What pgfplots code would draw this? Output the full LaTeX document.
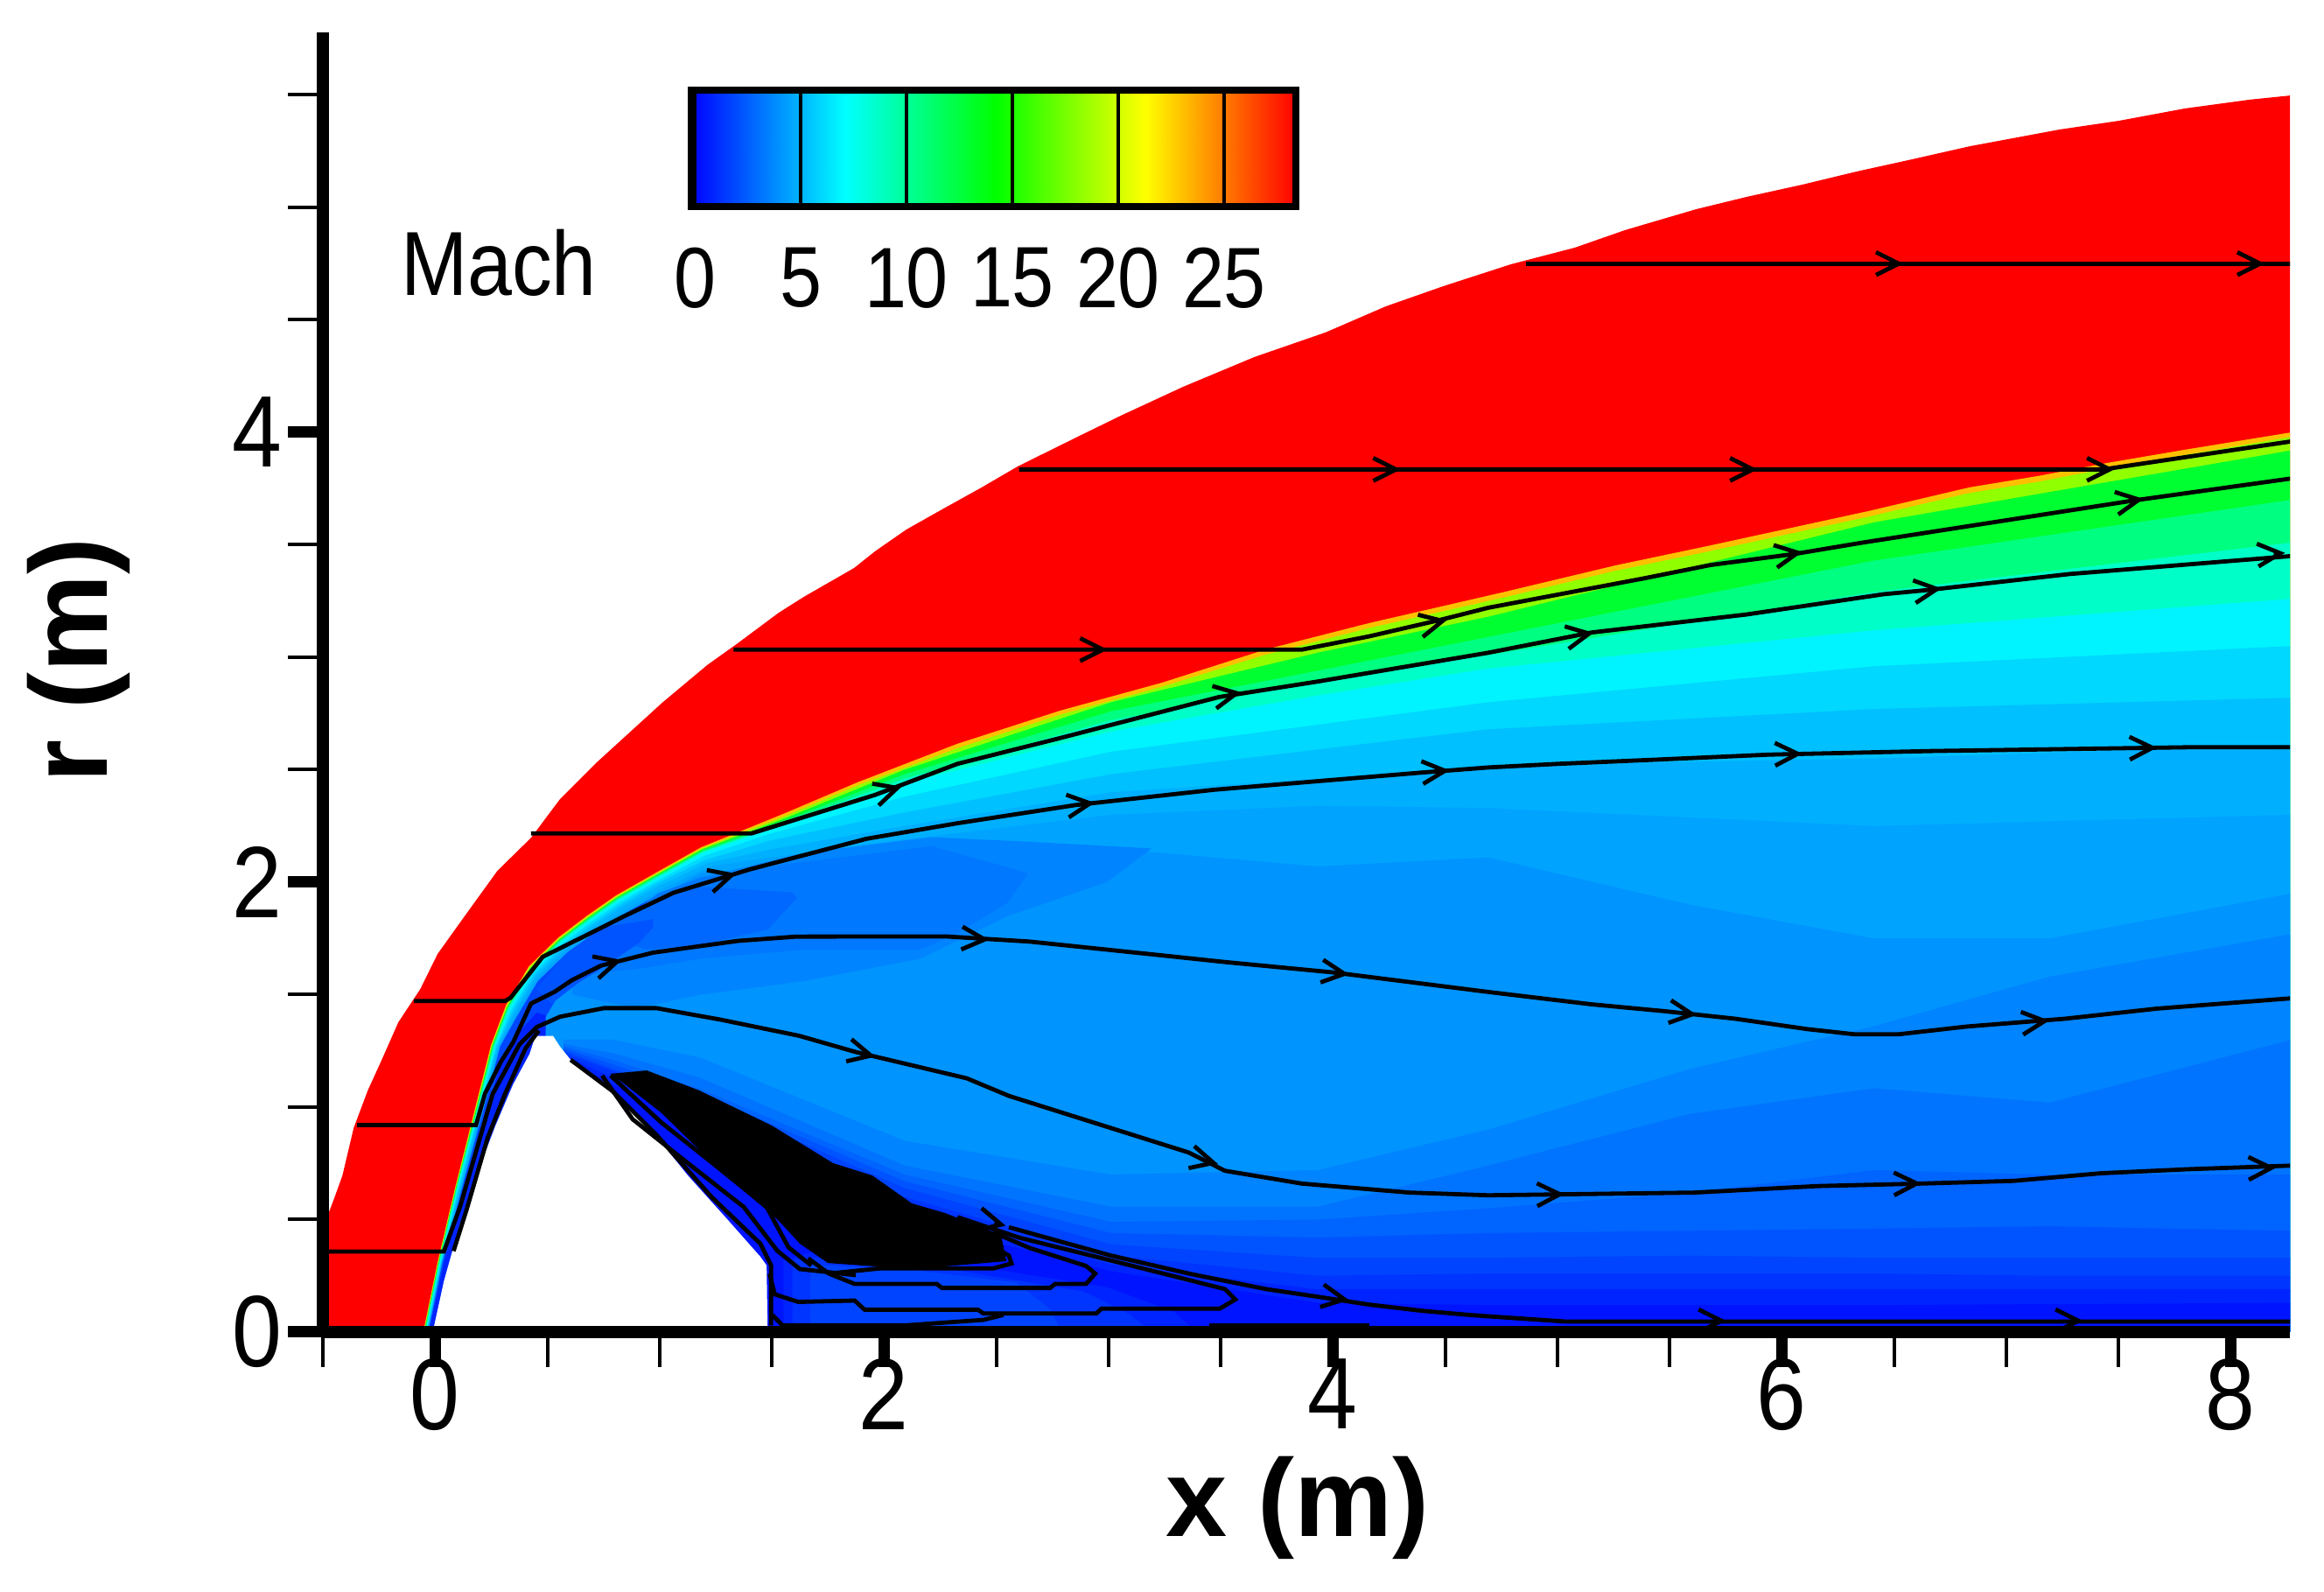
\documentclass[border=0pt]{standalone}
\usepackage{fontspec}
\setmainfont[FakeStretch=0.88]{Liberation Sans}
\newfontfamily\labfont{Liberation Sans}
\usepackage{pgfplots}
\pgfplotsset{compat=1.18}
\usetikzlibrary{arrows.meta}
\definecolor{cA}{HTML}{FF0000}
\definecolor{cB}{HTML}{FFC000}
\definecolor{cC}{HTML}{90FF00}
\definecolor{cD}{HTML}{00FF30}
\definecolor{cE}{HTML}{00FF80}
\definecolor{cF}{HTML}{00FFC8}
\definecolor{cG}{HTML}{00F4FF}
\definecolor{cH}{HTML}{00D8FF}
\definecolor{cI}{HTML}{00C0FF}
\definecolor{cJ}{HTML}{00B0FF}
\definecolor{cK}{HTML}{00A4FF}
\definecolor{cN0}{HTML}{0048FF}
\definecolor{cL}{HTML}{0094FF}
\definecolor{cM}{HTML}{0084FF}
\definecolor{cM2}{HTML}{0078FF}
\definecolor{cM3}{HTML}{0068FF}
\definecolor{cM4}{HTML}{0054FF}
\definecolor{cN}{HTML}{0074FF}
\definecolor{cO}{HTML}{0064FF}
\definecolor{cP}{HTML}{0054FF}
\definecolor{cQ}{HTML}{0044FF}
\definecolor{cR}{HTML}{0034FF}
\definecolor{cS}{HTML}{0024FF}
\definecolor{cT}{HTML}{0014FF}
\pgfplotsset{
  sl/.style={black,line width=1.2pt},
  lev/.style={draw=none,fill=#1},
}
\begin{document}
\begin{tikzpicture}
\useasboundingbox (0,0) rectangle (664pt,454.75pt);
\begin{axis}[
  at={(92.25pt,74.25pt)}, anchor=south west, scale only axis,
  width=562pt, height=371.25pt,
  xmin=-0.5, xmax=8.264, ymin=0, ymax=5.778,
  axis x line=bottom, axis y line=left,
  axis line style={-,line width=3.5pt},
  axis on top, no markers,
  every axis plot/.append style={xshift=-0.5pt},
  xtick={0,2,4,6,8}, ytick={0,2,4},
  minor xtick={-0.5,0.5,1,1.5,2.5,3,3.5,4.5,5,5.5,6.5,7,7.5},
  minor ytick={0.5,1,1.5,2.5,3,3.5,4.5,5,5.5},
  tick align=outside,
  major tick length=10pt, minor tick length=10pt,
  major tick style={black,line width=3.25pt},
  minor tick style={black,line width=1pt},
  tick label style={font=\fontsize{29}{30}\selectfont,inner sep=0pt,/pgf/number format/assume math mode=true},
  x tick label style={anchor=north,yshift=2.5pt},
  y tick label style={anchor=east,xshift=-1.5pt},
  xlabel={\labfont\bfseries\fontsize{31.5}{36}\selectfont x (m)},
  ylabel={\labfont\bfseries\fontsize{31.5}{36}\selectfont r (m)},
  every axis x label/.style={at={(axis description cs:0.4956,-0.1354)},anchor=center},
  every axis y label/.style={at={(axis description cs:-0.124,0.517)},anchor=center,rotate=90},
]
% free stream behind the bow shock
\addplot[lev=cA] coordinates {(-0.5,0.44)(-0.48,0.494)(-0.444,0.588)(-0.405,0.696)(-0.355,0.907)(-0.292,1.074)(-0.23,1.21)(-0.156,1.377)(-0.058,1.525)(0.019,1.681)(0.136,1.844)(0.285,2.05)(0.436,2.198)(0.565,2.37)(0.733,2.537)(0.81,2.607)(1.02,2.798)(1.22,2.965)(1.356,3.062)(1.539,3.198)(1.65,3.268)(1.875,3.397)(1.968,3.471)(2.108,3.568)(2.268,3.658)(2.443,3.755)(2.603,3.848)(2.864,3.977)(3.063,4.074)(3.34,4.202)(3.659,4.335)(3.975,4.444)(4.244,4.56)(4.501,4.65)(4.801,4.747)(5.086,4.821)(5.31,4.899)(5.627,4.992)(5.853,5.047)(6.099,5.101)(6.344,5.16)(6.59,5.214)(6.847,5.272)(7.245,5.346)(7.51,5.385)(7.806,5.44)(8.094,5.479)(8.28,5.498)(8.28,0)(-0.5,0)};
% Mach levels, highest first
\addplot[lev=cB] coordinates {(-0.045,0)(0.018,0.307)(0.097,0.642)(0.195,1.031)(0.257,1.276)(0.324,1.454)(0.425,1.625)(0.557,1.754)(0.685,1.851)(0.814,1.941)(0.985,2.038)(1.193,2.155)(1.57,2.308)(1.89,2.444)(2.334,2.615)(2.794,2.763)(3.25,2.888)(3.71,3.035)(4.17,3.152)(4.766,3.289)(5.27,3.409)(5.68,3.495)(6.395,3.65)(6.843,3.755)(7.151,3.806)(7.459,3.864)(7.806,3.923)(8.28,4.0)(8.28,0)};
\addplot[lev=cC] coordinates {(-0.043,0)(0.02,0.307)(0.099,0.642)(0.198,1.031)(0.26,1.276)(0.327,1.45)(0.428,1.621)(0.56,1.75)(0.687,1.846)(0.816,1.936)(0.987,2.033)(1.195,2.15)(1.57,2.295)(1.89,2.43)(2.334,2.595)(2.794,2.745)(3.25,2.87)(3.71,3.012)(4.17,3.13)(4.766,3.265)(5.27,3.385)(5.68,3.47)(6.395,3.625)(6.843,3.73)(7.151,3.78)(7.459,3.84)(7.806,3.90)(8.28,3.98)(8.28,0)};
\addplot[lev=cD] coordinates {(-0.041,0)(0.022,0.307)(0.101,0.642)(0.201,1.031)(0.263,1.275)(0.33,1.447)(0.431,1.617)(0.563,1.746)(0.69,1.842)(0.818,1.932)(0.989,2.029)(1.197,2.145)(1.57,2.285)(2.1,2.5)(3.02,2.80)(3.94,3.02)(4.7,3.18)(6.42,3.60)(8.28,3.92)(8.28,0)};
\addplot[lev=cE] coordinates {(-0.039,0)(0.024,0.307)(0.103,0.642)(0.204,1.031)(0.266,1.274)(0.332,1.443)(0.433,1.614)(0.565,1.743)(0.691,1.838)(0.82,1.928)(0.991,2.025)(1.199,2.14)(1.57,2.275)(2.1,2.48)(3.02,2.76)(3.94,2.94)(4.7,3.09)(6.42,3.43)(8.28,3.70)(8.28,0)};
\addplot[lev=cF] coordinates {(-0.037,0)(0.026,0.307)(0.105,0.642)(0.207,1.031)(0.269,1.272)(0.334,1.44)(0.435,1.611)(0.567,1.74)(0.693,1.834)(0.822,1.924)(0.993,2.021)(1.2,2.135)(1.57,2.265)(2.1,2.46)(3.02,2.72)(3.94,2.89)(4.7,3.01)(6.42,3.29)(8.28,3.51)(8.28,0)};
\addplot[lev=cG] coordinates {(-0.034,0)(0.029,0.307)(0.108,0.642)(0.211,1.031)(0.273,1.27)(0.338,1.435)(0.439,1.606)(0.571,1.735)(0.695,1.829)(0.825,1.919)(0.996,2.016)(1.2,2.13)(1.5,2.237)(2.1,2.44)(3.02,2.67)(3.94,2.83)(4.7,2.95)(6.42,3.12)(8.28,3.26)(8.28,0)};
\addplot[lev=cH] coordinates {(-0.031,0)(0.032,0.307)(0.112,0.642)(0.215,1.031)(0.278,1.27)(0.344,1.427)(0.445,1.598)(0.577,1.727)(0.70,1.82)(0.83,1.91)(1.0,2.007)(1.21,2.118)(1.5,2.215)(2.1,2.38)(3.02,2.58)(3.94,2.70)(4.7,2.80)(6.42,2.96)(8.28,3.05)(8.28,0)};
\addplot[lev=cI] coordinates {(-0.029,0)(0.034,0.307)(0.116,0.642)(0.22,1.031)(0.283,1.27)(0.35,1.42)(0.451,1.59)(0.583,1.719)(0.705,1.81)(0.835,1.90)(1.005,1.998)(1.215,2.10)(1.5,2.185)(2.1,2.31)(3.02,2.48)(3.94,2.59)(4.7,2.68)(6.42,2.77)(8.28,2.82)(8.28,0)};
\addplot[lev=cJ] coordinates {(-0.027,0)(0.036,0.307)(0.12,0.642)(0.225,1.031)(0.288,1.27)(0.355,1.41)(0.456,1.58)(0.588,1.71)(0.71,1.80)(0.84,1.89)(1.01,1.985)(1.22,2.085)(1.5,2.145)(2.1,2.25)(3.02,2.40)(3.94,2.46)(4.7,2.52)(6.42,2.55)(8.28,2.61)(8.28,0)};
\addplot[lev=cK] coordinates {(-0.025,0)(0.038,0.307)(0.124,0.642)(0.23,1.031)(0.293,1.27)(0.36,1.40)(0.461,1.57)(0.593,1.70)(0.72,1.79)(0.85,1.875)(1.02,1.97)(1.23,2.07)(1.5,2.11)(2.1,2.19)(3.02,2.30)(3.94,2.34)(4.7,2.33)(6.42,2.25)(8.28,2.30)(8.28,0)};
\addplot[lev=cN0] coordinates {(-0.023,0)(0.04,0.307)(0.128,0.642)(0.235,1.031)(0.298,1.27)(0.365,1.39)(0.466,1.56)(0.6,1.69)(0.73,1.78)(0.86,1.865)(1.03,1.96)(1.03,0)};
\addplot[lev=cS] coordinates {(-0.02,0)(0.045,0.3)(0.13,0.62)(0.24,1.0)(0.31,1.22)(0.38,1.33)(0.46,1.42)(0.53,1.40)(0.53,0)};
\addplot[lev=cL] coordinates {(0.5,0)(0.5,1.40)(0.62,1.60)(0.8,1.74)(1.03,1.95)(1.19,2.04)(1.5,2.07)(2.1,2.14)(3.02,2.15)(3.94,2.07)(4.7,2.11)(5.6,1.90)(6.42,1.75)(7.2,1.75)(8.28,1.95)(8.28,0)};
% darker pockets above the wake
\addplot[lev=cM] coordinates {(0.62,1.50)(0.62,1.62)(0.8,1.80)(1.03,1.93)(1.19,2.02)(1.65,2.13)(2.22,2.2)(2.65,2.18)(3.2,2.15)(3.0,2.0)(2.56,1.85)(2.17,1.66)(1.65,1.56)(1.19,1.50)(0.9,1.44)};
\addplot[lev=cM2] coordinates {(0.6,1.58)(0.70,1.72)(1.0,1.95)(1.19,2.02)(1.65,2.09)(2.22,2.16)(2.65,2.04)(2.56,1.91)(2.33,1.77)(2.17,1.70)(1.65,1.70)(1.19,1.66)(0.95,1.62)};
\addplot[lev=cM3] coordinates {(0.72,1.78)(1.0,1.93)(1.19,1.98)(1.6,1.955)(1.62,1.93)(1.49,1.79)(1.19,1.72)(0.95,1.70)};
\addplot[lev=cM4] coordinates {(0.46,1.525)(0.59,1.68)(0.747,1.797)(0.98,1.836)(0.98,1.80)(0.916,1.73)(0.786,1.64)(0.643,1.55)(0.526,1.46)};
% wake levels
\addplot[lev=cM] coordinates {(0.58,0)(0.58,1.30)(0.8,1.30)(1.19,1.22)(2.1,0.85)(3.02,0.70)(3.94,0.72)(4.7,0.90)(5.6,1.17)(6.42,1.36)(7.2,1.58)(8.28,1.77)(8.28,0)};
\addplot[lev=cN] coordinates {(0.58,0)(0.58,1.28)(0.8,1.24)(1.19,1.13)(2.1,0.74)(3.02,0.557)(3.94,0.557)(4.7,0.74)(5.6,0.97)(6.42,1.084)(7.2,1.02)(8.28,1.30)(8.28,0)};
\addplot[lev=cO] coordinates {(0.58,0)(0.58,1.27)(0.8,1.21)(1.19,1.08)(2.1,0.70)(3.02,0.49)(3.94,0.50)(4.7,0.55)(5.6,0.62)(6.42,0.72)(7.2,0.70)(8.28,0.70)(8.28,0)};
\addplot[lev=cP] coordinates {(0.58,0)(0.58,1.26)(0.8,1.19)(1.19,1.06)(2.1,0.67)(3.02,0.44)(3.94,0.42)(4.7,0.44)(5.6,0.45)(6.42,0.46)(7.2,0.47)(8.28,0.45)(8.28,0)};
\addplot[lev=cQ] coordinates {(0.58,0)(0.58,1.25)(0.8,1.17)(1.19,1.04)(2.1,0.64)(3.02,0.39)(3.94,0.33)(4.7,0.33)(5.6,0.34)(6.42,0.33)(7.2,0.33)(8.28,0.33)(8.28,0)};
\addplot[lev=cR] coordinates {(0.58,0)(0.58,1.24)(0.8,1.16)(1.19,1.02)(2.1,0.60)(3.02,0.34)(3.94,0.25)(4.7,0.26)(5.6,0.26)(6.42,0.26)(7.2,0.25)(8.28,0.25)(8.28,0)};
\addplot[lev=cS] coordinates {(0.58,0)(0.58,1.23)(0.8,1.13)(1.19,1.0)(2.1,0.56)(3.02,0.30)(3.94,0.19)(4.7,0.19)(6.42,0.19)(8.28,0.19)(8.28,0)};
\addplot[lev=cT] coordinates {(0.58,0)(0.58,1.22)(0.8,1.10)(1.19,0.95)(2.1,0.5)(3.02,0.27)(3.94,0.13)(4.7,0.12)(6.42,0.12)(8.28,0.13)(8.28,0)};
% recirculation zone behind the base
\addplot[lev=cS] coordinates {(1.56,0)(1.56,0.32)(1.7,0.36)(2.3,0.31)(3.0,0.20)(3.3,0.09)(3.4,0)};
\addplot[lev=cR] coordinates {(1.6,0)(1.6,0.32)(1.7,0.33)(2.3,0.28)(2.9,0.18)(3.1,0.08)(3.2,0)};
\addplot[lev=cQ] coordinates {(1.68,0)(1.68,0.3)(2.1,0.28)(2.6,0.22)(2.75,0.1)(2.8,0)};
% tightly packed streamlines
\addplot[draw=none,fill=black] coordinates {(0.787,1.148)(0.951,1.163)(1.185,1.074)(1.508,0.918)(1.781,0.751)(1.956,0.696)(2.132,0.572)(2.28,0.529)(2.529,0.432)(2.553,0.315)(2.132,0.28)(1.758,0.307)(1.633,0.393)(1.532,0.502)(1.286,0.712)(1.013,0.977)(0.838,1.113)};
% the body
\addplot[draw=none,fill=white] coordinates {(0.0,0)(0.004,0.03)(0.047,0.226)(0.117,0.475)(0.203,0.724)(0.277,0.918)(0.355,1.10)(0.429,1.237)(0.455,1.317)(0.533,1.317)(0.565,1.268)(0.612,1.21)(0.787,1.074)(0.986,0.879)(1.134,0.696)(1.309,0.502)(1.457,0.335)(1.485,0.296)(1.489,0.03)(1.489,0)};
% streamlines
\addplot[sl] coordinates {(4.87,4.75)(8.28,4.75)};
\addplot[sl] coordinates {(2.61,3.835)(7.44,3.835)(8.28,3.96)};
\addplot[sl] coordinates {(1.338,3.034)(3.87,3.034)(4.17,3.093)(4.49,3.167)(4.7,3.22)(5.39,3.35)(5.69,3.41)(6.07,3.46)(6.37,3.51)(7.57,3.696)(8.28,3.795)};
\addplot[sl] coordinates {(0.435,2.217)(1.418,2.217)(1.968,2.388)(2.335,2.526)(2.79,2.64)(3.5,2.823)(3.94,2.892)(4.7,3.02)(5.16,3.11)(5.85,3.19)(6.46,3.28)(6.67,3.30)(7.29,3.37)(8.28,3.45)};
\addplot[sl] coordinates {(-0.086,1.472)(0.32,1.472)(0.344,1.486)(0.487,1.668)(0.669,1.758)(0.851,1.849)(1.07,1.953)(1.41,2.057)(1.93,2.193)(2.335,2.262)(2.862,2.343)(3.48,2.411)(4.40,2.487)(4.70,2.51)(5.01,2.526)(5.43,2.544)(5.95,2.567)(6.67,2.583)(7.83,2.60)(8.28,2.60)};
\addplot[sl] coordinates {(-0.34,0.92)(0.19,0.92)(0.23,1.06)(0.30,1.2)(0.357,1.291)(0.435,1.46)(0.539,1.512)(0.617,1.564)(0.747,1.629)(0.98,1.687)(1.357,1.739)(1.617,1.758)(2.28,1.759)(2.656,1.736)(3.137,1.686)(3.527,1.645)(4.008,1.599)(4.7,1.512)(5.16,1.457)(5.48,1.427)(5.8,1.393)(6.12,1.347)(6.33,1.324)(6.53,1.324)(6.83,1.358)(7.27,1.393)(7.68,1.438)(8.28,1.484)};
\addplot[sl] coordinates {(-0.5,0.358)(0.047,0.358)(0.12,0.56)(0.264,1.058)(0.383,1.278)(0.461,1.356)(0.565,1.402)(0.76,1.44)(0.994,1.44)(1.279,1.389)(1.63,1.317)(1.882,1.245)(2.377,1.128)(2.564,1.05)(3.366,0.798)(3.527,0.717)(3.87,0.66)(4.35,0.62)(4.7,0.608)(5.617,0.62)(6.167,0.649)(6.625,0.66)(7.04,0.672)(7.43,0.706)(7.82,0.724)(8.28,0.74)};
\addplot[sl] coordinates {(0.09,0.36)(0.15,0.55)(0.242,0.864)(0.32,1.06)(0.41,1.26)(0.47,1.34)};
% recirculating streamlines
\addplot[sl] coordinates {(0.612,1.21)(0.8,1.07)(1.0,0.87)(1.24,0.60)(1.457,0.393)(1.505,0.296)(1.505,0.03)};
\addplot[sl] coordinates {(0.752,1.14)(0.888,0.946)(1.134,0.751)(1.383,0.556)(1.532,0.362)(1.633,0.28)(1.882,0.253)};
\addplot[sl] coordinates {(0.79,1.14)(1.013,0.934)(1.259,0.739)(1.485,0.556)(1.582,0.377)(1.684,0.296)};
\addplot[sl] coordinates {(1.498,0.26)(1.521,0.168)(1.625,0.134)(1.877,0.14)(1.922,0.099)(2.427,0.099)(2.45,0.083)(2.954,0.083)(2.977,0.104)(3.504,0.104)(3.573,0.145)(3.527,0.191)(3.252,0.26)(2.931,0.34)(2.61,0.42)(2.335,0.511)};
\addplot[sl] coordinates {(1.67,0.328)(1.762,0.26)(1.877,0.214)(2.243,0.214)(2.266,0.196)(2.748,0.196)(2.77,0.214)(2.908,0.214)(2.949,0.26)(2.908,0.294)(2.656,0.374)(2.495,0.443)};
\addplot[sl] coordinates {(1.762,0.26)(1.991,0.283)(2.495,0.283)(2.576,0.305)(2.564,0.34)(2.427,0.42)};
\addplot[sl] coordinates {(1.51,0.076)(1.556,0.03)(2.106,0.03)(2.45,0.054)(2.54,0.076)};
\addplot[sl] coordinates {(3.458,0.03)(4.17,0.03)};
\addplot[sl] coordinates {(2.564,0.466)(3.02,0.34)(3.366,0.26)(3.71,0.191)(3.94,0.157)(4.17,0.122)(4.4,0.095)(4.604,0.077)(4.70,0.07)(5.04,0.047)(8.28,0.047)};
% arrowheads along the streamlines
\addplot[black,line width=1.2pt,
  quiver={u=\thisrow{u},v=\thisrow{v},
    every arrow/.append style={-{Straight Barb[length=6.5pt,width=6.5pt]}}}]
  table {
x y u v
6.5 4.75 0.05 0
8.11 4.75 0.05 0
4.26 3.835 0.05 0
5.85 3.835 0.05 0
7.44 3.835 0.05 0
2.954 3.034 0.05 0
4.467 3.155 0.05 0.011
6.05 3.46 0.05 0.008
7.57 3.696 0.05 0.008
2.037 2.41 0.05 0.015
3.55 2.835 0.05 0.009
5.12 3.10 0.05 0.009
6.67 3.30 0.05 0.006
8.2 3.46 0.05 0.004
1.30 2.024 0.05 0.014
2.897 2.347 0.05 0.006
4.478 2.493 0.05 0.004
6.05 2.57 0.05 0.001
7.63 2.597 0.05 0.001
0.79 1.64 0.05 0.014
2.427 1.747 0.05 -0.003
4.03 1.596 0.05 -0.006
5.58 1.416 0.05 -0.006
7.15 1.38 0.05 0.005
1.92 1.236 0.05 -0.012
3.446 0.76 0.05 -0.013
4.99 0.612 0.05 0.001
6.58 0.66 0.05 0.001
8.16 0.729 0.05 0.001
5.71 0.05 0.05 0
7.3 0.05 0.05 0
4.03 0.15 0.05 -0.008
2.5 0.485 0.05 -0.012
};
\end{axis}
% colour bar
\begin{axis}[
  at={(197.5pt,395.75pt)}, anchor=south west, scale only axis,
  width=172.75pt, height=33.25pt,
  xmin=-0.165, xmax=28.39, ymin=0, ymax=1,
  axis on top,
  axis line style={line width=2pt},
  xtick={0,5,10,15,20,25}, ytick=\empty,
  major tick length=0pt,
  xmajorgrids, major grid style={black,line width=1pt},
  tick label style={font=\fontsize{24.5}{26}\selectfont,inner sep=0pt,/pgf/number format/assume math mode=true},
  x tick label style={anchor=north,yshift=-11.5pt},
  colormap={tec}{rgb255=(0,0,255) rgb255=(0,255,255) rgb255=(0,255,0) rgb255=(255,255,0) rgb255=(255,0,0)},
  point meta min=0, point meta max=28.4,
]
\addplot[surf, shader=interp, mesh/cols=5, point meta=explicit] table[meta=c] {
x y c
-0.2 0 0
7.1 0 7.1
14.2 0 14.2
21.3 0 21.3
28.4 0 28.4
-0.2 1 0
7.1 1 7.1
14.2 1 14.2
21.3 1 21.3
28.4 1 28.4
};
\end{axis}
\node[inner sep=0pt,font=\fontsize{26}{28}\selectfont] at (142.5pt,379.75pt) {Mach};
\end{tikzpicture}
\end{document}
